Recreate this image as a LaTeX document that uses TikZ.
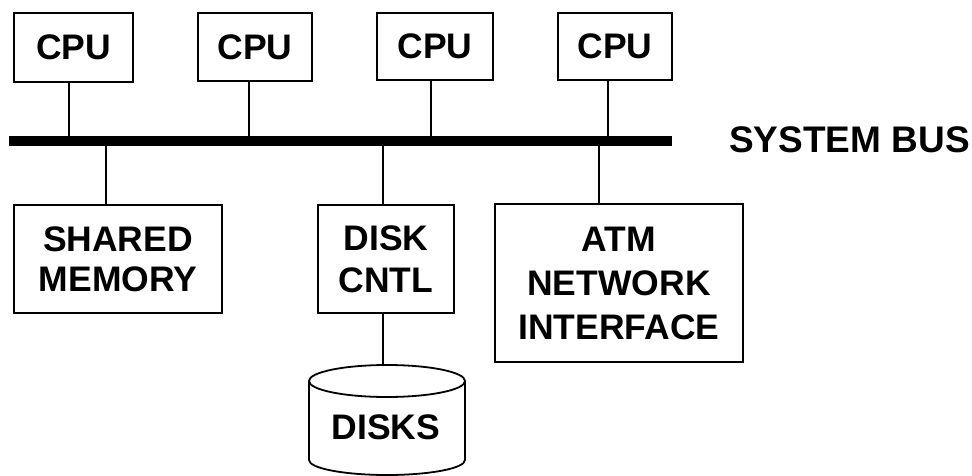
\documentclass[tikz,border=0pt]{standalone}
\usepackage{fontspec}
\setmainfont{Liberation Sans}
\begin{document}
\begin{tikzpicture}[x=1pt,y=1pt,
  unit/.style={draw, line width=1.8pt, inner sep=0pt, align=center,
               font=\bfseries\fontsize{35.5}{42}\selectfont},
  wire/.style={line width=1.8pt},
  plaintext/.style={inner sep=0pt, align=center,
                    font=\bfseries\fontsize{35.5}{42}\selectfont}]
\useasboundingbox (0,0) rectangle (972,-476);

% processors
\node[unit, minimum width=119pt, minimum height=69pt] (cpu1) at (73.5,-47.5) {CPU};
\node[unit, minimum width=114pt, minimum height=68pt] (cpu2) at (255,-47) {CPU};
\node[unit, minimum width=116pt, minimum height=67pt] (cpu3) at (435,-46.5) {CPU};
\node[unit, minimum width=114pt, minimum height=67pt] (cpu4) at (615,-46.5) {CPU};

% system bus
\node[fill=black, inner sep=0pt, minimum width=663pt, minimum height=10pt] (bus) at (340.5,-141) {};
\node[plaintext, anchor=west, font=\bfseries\fontsize{37}{42}\selectfont] (buslabel) at (729,-140) {SYSTEM BUS};

% tap points on the bus
\coordinate (t1) at (69,-141);
\coordinate (t2) at (249,-141);
\coordinate (t3) at (431,-141);
\coordinate (t4) at (608,-141);
\coordinate (b1) at (106,-141);
\coordinate (b2) at (383,-141);
\coordinate (b3) at (599,-141);

% devices below the bus
\node[unit, minimum width=208pt, minimum height=108pt, font=\bfseries\fontsize{35.5}{40}\selectfont] (mem) at (118,-259) {SHARED\\MEMORY};
\node[unit, minimum width=136pt, minimum height=108pt] (dcntl) at (386,-259) {DISK\\CNTL};
\node[unit, minimum width=248pt, minimum height=158pt, font=\bfseries\fontsize{35.5}{44}\selectfont] (atm) at (619,-283) {ATM\\NETWORK\\INTERFACE};

% disk drum
\coordinate (disktop) at (383,-365);
\draw[wire] (387,-381) ellipse [x radius=78pt, y radius=16pt];
\draw[wire] (309,-381) -- (309,-460) arc[start angle=180, end angle=360, x radius=78pt, y radius=15pt] -- (465,-381);
\node[plaintext] (disks) at (386,-427) {DISKS};

% connections
\draw[wire] (cpu1.south -| t1) -- (t1);
\draw[wire] (cpu2.south -| t2) -- (t2);
\draw[wire] (cpu3.south -| t3) -- (t3);
\draw[wire] (cpu4.south -| t4) -- (t4);
\draw[wire] (b1) -- (mem.north -| b1);
\draw[wire] (b2) -- (dcntl.north -| b2);
\draw[wire] (b3) -- (atm.north -| b3);
\draw[wire] (dcntl.south -| disktop) -- (disktop);
\end{tikzpicture}
\end{document}
